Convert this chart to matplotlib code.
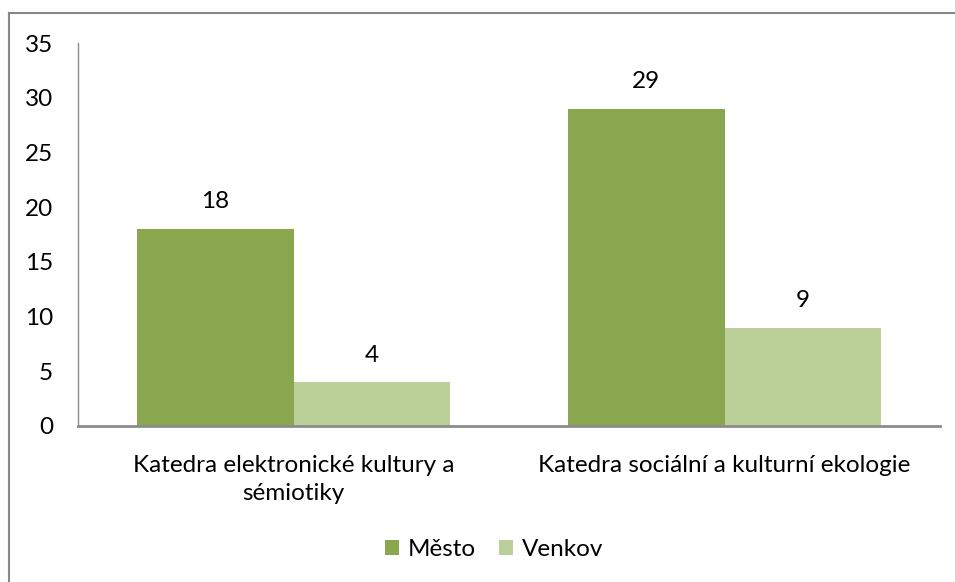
import matplotlib
matplotlib.use("Agg")
import matplotlib.pyplot as plt
import numpy as np
from matplotlib.lines import Line2D
from matplotlib.patches import Patch

categories = ["Katedra elektronické kultury a\nsémiotiky",
              "Katedra sociální a kulturní ekologie"]
series_names = ["Město", "Venkov"]
mesto = [18, 29]
venkov = [4, 9]
yticks = [0, 5, 10, 15, 20, 25, 30, 35]

colors = ["#8AA64F", "#BBCF99"]
plt.rcParams["font.family"] = ["Lato", "DejaVu Sans"]
FS = 17.5

W, H = 955, 582
fig = plt.figure(figsize=(W / 100, H / 100), dpi=100)
ax = fig.add_axes([78 / W, 1 - 426 / H, (940 - 78) / W, (426 - 43) / H])

x = np.arange(len(categories))
bw = 0.364
b1 = ax.bar(x - bw / 2, mesto, bw, color=colors[0], label=series_names[0])
b2 = ax.bar(x + bw / 2, venkov, bw, color=colors[1], label=series_names[1])

for bars, vals in ((b1, mesto), (b2, venkov)):
    for r, v in zip(bars, vals):
        ax.annotate(str(v), (r.get_x() + r.get_width() / 2, v),
                    xytext=(0, 12), textcoords="offset points",
                    ha="center", va="bottom", fontsize=FS, color="#000000")

ax.set_xlim(-0.5, 1.5)
ax.set_ylim(0, 35)
ax.set_yticks(yticks)
ax.set_yticklabels([str(t) for t in yticks], fontsize=FS)
ax.set_xticks(x)
ax.set_xticklabels(categories, fontsize=FS, linespacing=1.4)
ax.tick_params(axis="y", length=0, pad=18)
ax.tick_params(axis="x", length=0, pad=21)

for s in ("top", "right"):
    ax.spines[s].set_visible(False)
ax.spines["left"].set_color("#8C8C8C")
ax.spines["left"].set_linewidth(1.0)
ax.spines["bottom"].set_color("#8C8C8C")
ax.spines["bottom"].set_linewidth(2.0)

handles = [Patch(facecolor=colors[0]), Patch(facecolor=colors[1])]
fig.legend(handles, series_names, loc="center", bbox_to_anchor=(494 / W, 1 - 550 / H),
           ncol=2, frameon=False, fontsize=FS, handlelength=0.58, handleheight=0.58,
           handletextpad=0.37, columnspacing=0.95, borderpad=0)

# chart-area border
fig.add_artist(Line2D([9 / W, 9 / W], [1 - 13 / H, 0], transform=fig.transFigure,
                      color="#888888", lw=1.5))
fig.add_artist(Line2D([9 / W, 1], [1 - 13 / H, 1 - 13 / H], transform=fig.transFigure,
                      color="#888888", lw=1.5))

fig.savefig("out.png", dpi=100)
